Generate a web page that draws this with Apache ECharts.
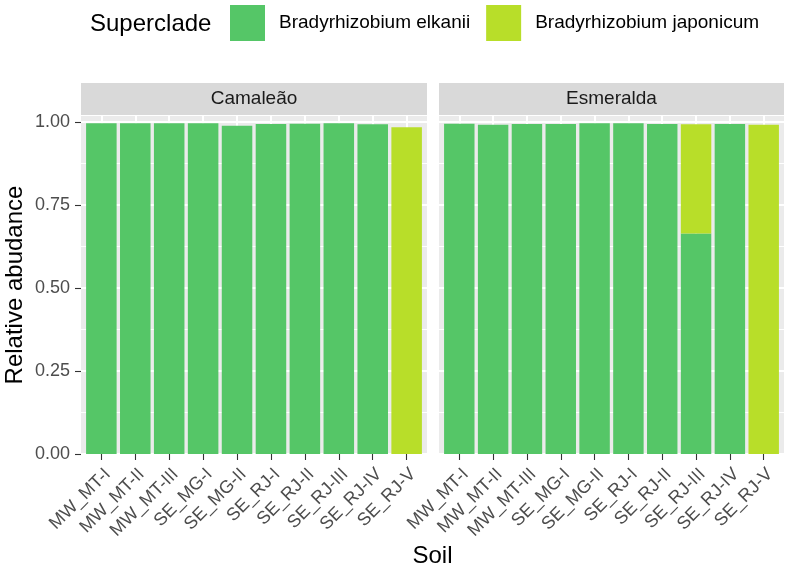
<!DOCTYPE html>
<html><head><meta charset="utf-8">
<script src="https://cdn.jsdelivr.net/npm/echarts@6/dist/echarts.min.js"></script>
<style>html,body{margin:0;padding:0;background:#fff}#c{width:787px;height:569px}</style>
</head><body><div id="c"></div>
<script>
const categories = ['MW_MT-I','MW_MT-II','MW_MT-III','SE_MG-I','SE_MG-II','SE_RJ-I','SE_RJ-II','SE_RJ-III','SE_RJ-IV','SE_RJ-V'];
const panels = ['Camaleão','Esmeralda'];
const seriesNames = ['Bradyrhizobium elkanii','Bradyrhizobium japonicum'];
const camaleaoElkanii   = [0.996,0.996,0.996,0.996,0.989,0.994,0.995,0.996,0.993,0];
const camaleaoJaponicum = [0,0,0,0,0,0,0,0,0,0.984];
const esmeraldaElkanii   = [0.995,0.992,0.994,0.994,0.996,0.996,0.994,0.664,0.994,0];
const esmeraldaJaponicum = [0,0,0,0,0,0,0,0.329,0,0.992];
const yTicks = [0, 0.25, 0.5, 0.75, 1.0];
const yMinor = [0.125, 0.375, 0.625, 0.875];
const legendTitle = 'Superclade';
const xTitle = 'Soil';
const yTitle = 'Relative abudance';

const FONT = "'Liberation Sans', Arial, sans-serif";
const colors = ['#55C667', '#B8DE29'];
const panelTop = 116, panelBottom = 454;
const panelBoxes = [{x: 81, w: 346}, {x: 439, w: 345}];
const yMax = 1.018;

const chart = echarts.init(document.getElementById('c'), null, {renderer: 'canvas'});

const grids = [], xAxes = [], yAxes = [], graphics = [];
panelBoxes.forEach((p, i) => {
  grids.push({left: p.x, top: panelTop, width: p.w, height: panelBottom - panelTop,
    show: true, backgroundColor: '#EBEBEB', borderWidth: 0});
});
panelBoxes.forEach((p, i) => {
  const unit = p.w / (categories.length + 0.2);
  grids.push({left: p.x + 0.1 * unit, top: panelTop, width: unit * categories.length,
    height: panelBottom - panelTop, show: false});
});
[0, 1].forEach(g => xAxes.push({type: 'value', gridIndex: g, show: false, min: 0, max: 1}));
[2, 3].forEach(g => xAxes.push({
  type: 'category', gridIndex: g, data: categories,
  axisLine: {show: false},
  axisTick: {show: true, alignWithLabel: true, length: 6, lineStyle: {color: '#333333', width: 1.1}},
  axisLabel: {rotate: 45, align: 'right', verticalAlign: 'top', margin: 11, interval: 0,
    fontFamily: FONT, fontSize: 18, color: '#4D4D4D'},
  splitLine: {show: true, alignWithLabel: true, lineStyle: {color: '#FFFFFF', width: 2}}
}));
[0, 1].forEach(g => yAxes.push({
  type: 'value', gridIndex: g, min: 0, max: yMax,
  name: g === 0 ? yTitle : '', nameLocation: 'middle', nameGap: 54,
  nameTextStyle: {fontFamily: FONT, fontSize: 24, color: '#000'},
  axisLine: {show: false},
  axisTick: {show: g === 0, length: 6, customValues: yTicks, lineStyle: {color: '#333333', width: 1.1}},
  axisLabel: {show: g === 0, customValues: yTicks, margin: 11, formatter: v => v.toFixed(2),
    fontFamily: FONT, fontSize: 18, color: '#4D4D4D'},
  splitLine: {show: true, lineStyle: {color: '#FFFFFF', width: 2}}
}));
[2, 3].forEach(g => yAxes.push({type: 'value', gridIndex: g, min: 0, max: yMax, show: false, splitLine: {show: false}}));
[0, 1].forEach(g => yAxes.push({
  type: 'value', gridIndex: g, min: 0, max: yMax,
  axisLine: {show: false}, axisLabel: {show: false},
  axisTick: {show: false, customValues: yMinor},
  splitLine: {show: true, lineStyle: {color: '#FFFFFF', width: 1}}
}));

const seriesData = [
  [camaleaoElkanii, camaleaoJaponicum],
  [esmeraldaElkanii, esmeraldaJaponicum]
];
const series = [];
seriesData.forEach((pair, pi) => {
  pair.forEach((vals, si) => {
    series.push({
      name: seriesNames[si], type: 'bar', stack: 'p' + pi,
      xAxisIndex: 2 + pi, yAxisIndex: 2 + pi,
      data: vals, barWidth: '90%',
      itemStyle: {color: colors[si]}, z: 3
    });
  });
});

panelBoxes.forEach((p, i) => {
  graphics.push({type: 'rect', shape: {x: p.x, y: 83, width: p.w, height: 32}, style: {fill: '#D9D9D9'}, z: 0});
  graphics.push({type: 'text', x: p.x + p.w / 2, y: 99, style: {text: panels[i], fontFamily: FONT, fontSize: 19,
    fill: '#1A1A1A', align: 'center', verticalAlign: 'middle'}, z: 1});
});
graphics.push({type: 'text', x: (panelBoxes[0].x + panelBoxes[1].x + panelBoxes[1].w) / 2, y: 556,
  style: {text: xTitle, fontFamily: FONT, fontSize: 24, fill: '#000', align: 'center', verticalAlign: 'middle'}});

chart.setOption({
  animation: false,
  backgroundColor: '#FFFFFF',
  title: {text: legendTitle, left: 90, top: 12, padding: 0,
    textStyle: {fontFamily: FONT, fontSize: 24, fontWeight: 'normal', color: '#000'}},
  legend: {left: 230, top: 5, padding: 0, itemWidth: 35, itemHeight: 36, itemGap: 16, icon: 'rect', selectedMode: false,
    data: seriesNames, textStyle: {fontFamily: FONT, fontSize: 19, color: '#000', padding: [0, 0, 0, 9]}},
  grid: grids, xAxis: xAxes, yAxis: yAxes, series: series, graphic: graphics
});
</script></body></html>
